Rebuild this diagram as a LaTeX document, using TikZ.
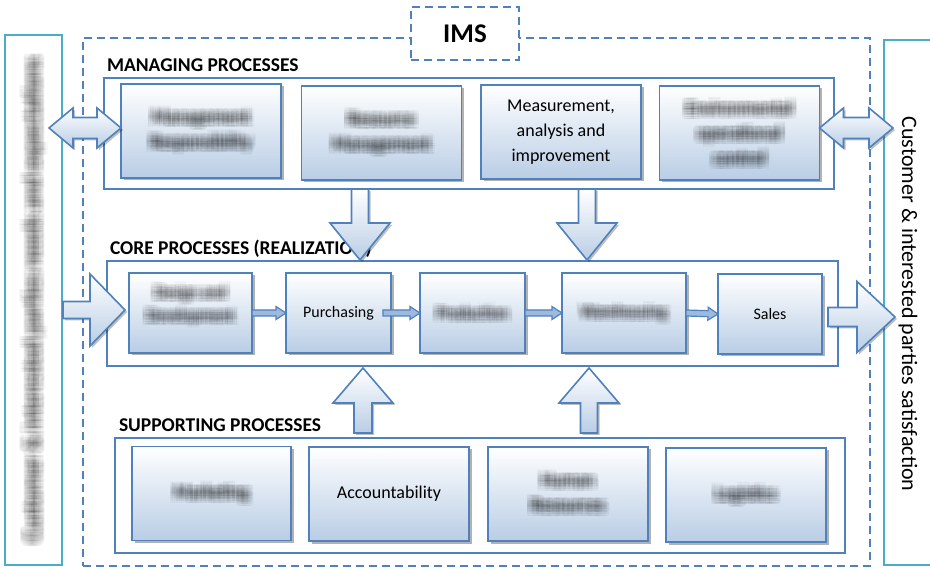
\documentclass[tikz,border=0pt]{standalone}
\usepackage{fontspec}
\setmainfont{Carlito}
\usetikzlibrary{calc,shadows}
\definecolor{boxblue}{HTML}{4F81BD}
\definecolor{frameteal}{HTML}{4BACC6}
\definecolor{fillblue}{HTML}{B9CDE5}
\definecolor{flowfill}{HTML}{9DB9DE}

% soft, out-of-focus label: many faint copies of the same text
\newcommand{\smudge}[3]{%
  \foreach \bx in {-3,...,3}{%
    \foreach \by in {-3,...,3}{%
      \node[smudgecopy,#2] at ($(#1)+(\bx*1.7,\by*1.7)$) {#3};
    }%
  }%
}

\begin{document}
\begin{tikzpicture}[x=1pt,y=-1pt,
  every node/.style={inner sep=0pt, outer sep=0pt},
  sidebar/.style={draw=frameteal, line width=2.5pt},
  imsline/.style={draw=boxblue, line width=1.8pt, dash pattern=on 8pt off 5pt},
  group/.style={draw=boxblue, line width=1.8pt, fill=white},
  heading/.style={anchor=base west, font=\bfseries\fontsize{19.5}{22}\selectfont},
  procbox/.style={draw=boxblue, line width=1.8pt, top color=white, bottom color=fillblue,
    drop shadow={shadow xshift=2.5pt, shadow yshift=-2.5pt, opacity=0.3, fill=black},
    minimum width=160pt, minimum height=94pt, align=center,
    font=\fontsize{18}{25}\selectfont},
  corebox/.style={procbox, minimum height=80pt, font=\fontsize{16}{23}\selectfont},
  smudgecopy/.style={text=black, opacity=0.032, align=center, font=\fontsize{18}{25}\selectfont},
  bigarrow/.style={draw=boxblue, line width=1.6pt, line join=miter, top color=white, bottom color=fillblue,
    drop shadow={shadow xshift=2pt, shadow yshift=-2pt, opacity=0.25, fill=black}},
  flowarrow/.style={draw=boxblue, line width=1.2pt, fill=flowfill, line join=miter},
  % block arrow from start to target: shaft half width, head half width, head length
  blockto/.style n args={3}{to path={
    ($(\tikztostart)!#1!90:(\tikztotarget)$)
    -- ($(\tikztotarget)!#3!(\tikztostart)!#1!-90:(\tikztostart)$)
    -- ($(\tikztotarget)!#3!(\tikztostart)!#2!-90:(\tikztostart)$)
    -- (\tikztotarget)
    -- ($(\tikztotarget)!#3!(\tikztostart)!#2!90:(\tikztostart)$)
    -- ($(\tikztotarget)!#3!(\tikztostart)!#1!90:(\tikztostart)$)
    -- ($(\tikztostart)!#1!-90:(\tikztotarget)$)
    -- cycle}},
  % block arrow with a head at both ends
  doubleto/.style n args={3}{to path={
    -- ($(\tikztostart)!#3!(\tikztotarget)!#2!-90:(\tikztotarget)$)
    -- ($(\tikztostart)!#3!(\tikztotarget)!#1!-90:(\tikztotarget)$)
    -- ($(\tikztotarget)!#3!(\tikztostart)!#1!90:(\tikztostart)$)
    -- ($(\tikztotarget)!#3!(\tikztostart)!#2!90:(\tikztostart)$)
    -- (\tikztotarget)
    -- ($(\tikztotarget)!#3!(\tikztostart)!#2!-90:(\tikztostart)$)
    -- ($(\tikztotarget)!#3!(\tikztostart)!#1!-90:(\tikztostart)$)
    -- ($(\tikztostart)!#3!(\tikztotarget)!#1!90:(\tikztotarget)$)
    -- ($(\tikztostart)!#3!(\tikztotarget)!#2!90:(\tikztotarget)$)
    -- cycle}}
]
\useasboundingbox (0,0) rectangle (930,569);

% side bars
\node[sidebar, minimum width=57pt, minimum height=530pt] (lbar) at (33.5,300) {};
\node[sidebar, minimum width=61pt, minimum height=525pt] (rbar) at (914.5,302.5) {};
\node[rotate=-90, font=\fontsize{22}{26}\selectfont] (rtext) at (908,304)
  {Customer \& interested parties satisfaction};
\smudge{lbar.center}{rotate=90, font=\fontsize{22}{26}\selectfont}{Customer \& interested parties needs and expectations}

% IMS frame
\node[imsline, minimum width=787pt, minimum height=528pt] (imsframe) at (476.5,302) {};
\node[imsline, fill=white, minimum width=108pt, minimum height=53pt,
  font=\bfseries\fontsize{27}{30}\selectfont] (ims) at (465,33.5) {IMS};

% process groups
\node[group, minimum width=730pt, minimum height=111pt] (mgroup) at (469,133.5) {};
\node[group, minimum width=731pt, minimum height=105pt] (cgroup) at (472.5,313.5) {};
\node[group, minimum width=730pt, minimum height=115pt] (sgroup) at (480,495.5) {};
\node[heading] (mhead) at (107,72) {MANAGING PROCESSES};
\node[heading] (chead) at (110,255) {CORE PROCESSES (REALIZATION)};
\node[heading] (shead) at (119,432) {SUPPORTING PROCESSES};

% managing processes
\node[procbox] (m1) at (201,131) {};
\node[procbox] (m2) at (381.5,133) {};
\node[procbox] (m3) at (561,132) {Measurement,\\analysis and\\improvement};
\node[procbox] (m4) at (739.5,133) {};
\smudge{m1.center}{}{Management\\Responsibility}
\smudge{m2.center}{}{Resource\\Management}
\smudge{m4.center}{}{Environmental\\operational\\control}

% core processes
\node[corebox, minimum width=123pt] (c1) at (190.5,313) {};
\node[corebox, minimum width=105pt] (c2) at (338.5,313) {Purchasing};
\node[corebox, minimum width=105pt] (c3) at (472.5,313) {};
\node[corebox, minimum width=124pt] (c4) at (624,313) {};
\node[corebox, minimum width=104pt] (c5) at (770,314) {Sales};
\smudge{c1.center}{yshift=8pt, font=\fontsize{16}{23}\selectfont}{Design and\\Development}
\smudge{c3.center}{font=\fontsize{16}{23}\selectfont}{Production}
\smudge{c4.center}{font=\fontsize{16}{23}\selectfont}{Warehousing}

% supporting processes
\node[procbox, minimum width=159pt] (s1) at (211.5,493.5) {};
\node[procbox] (s2) at (389,494) {Accountability};
\node[procbox] (s3) at (568,494) {};
\node[procbox] (s4) at (746,495) {};
\smudge{s1.center}{}{Marketing}
\smudge{s3.center}{yshift=1pt}{Human\\Resources}
\smudge{s4.center}{}{Logistics}

% flow between core processes
\coordinate (f2s) at ([xshift=-8pt]c2.east);
\path[flowarrow, blockto={3pt}{6.5pt}{10pt}] (c1.east) to (c2.west);
\path[flowarrow, blockto={3pt}{6.5pt}{10pt}] (f2s) to (c3.west);
\path[flowarrow, blockto={3pt}{6.5pt}{10pt}] (c3.east) to (c4.west);
\path[flowarrow, blockto={3pt}{6.5pt}{10pt}] (c4.east) to (c5.west);

% end points of the large arrows
\coordinate (dlA) at (49,128);
\coordinate (dlB) at (m1.west |- dlA);
\coordinate (drA) at (m4.east |- dlA);
\coordinate (drB) at (893,128);
\coordinate (inA) at (63,310);
\coordinate (inB) at (125,310);
\coordinate (outA) at (828,317);
\coordinate (outB) at (895,317);
\coordinate (dn1A) at (360,189);
\coordinate (dn1B) at (360,260);
\coordinate (dn2A) at (587,189);
\coordinate (dn2B) at (587,260);
\coordinate (up1A) at (363,433);
\coordinate (up1B) at (363,368);
\coordinate (up2A) at (589,433);
\coordinate (up2B) at (589,368);

% large arrows
\path[bigarrow, doubleto={10.5pt}{20pt}{24pt}] (dlA) to (dlB);
\path[bigarrow, doubleto={10.5pt}{20pt}{24pt}] (drA) to (drB);
\path[bigarrow, blockto={8.5pt}{36pt}{35pt}] (inA) to (inB);
\path[bigarrow, blockto={9.5pt}{35.5pt}{38pt}] (outA) to (outB);
\path[bigarrow, blockto={8.5pt}{30pt}{37pt}] (dn1A) to (dn1B);
\path[bigarrow, blockto={8.5pt}{30pt}{37pt}] (dn2A) to (dn2B);
\path[bigarrow, blockto={9pt}{30pt}{35pt}] (up1A) to (up1B);
\path[bigarrow, blockto={8.5pt}{30pt}{35pt}] (up2A) to (up2B);
\end{tikzpicture}
\end{document}
